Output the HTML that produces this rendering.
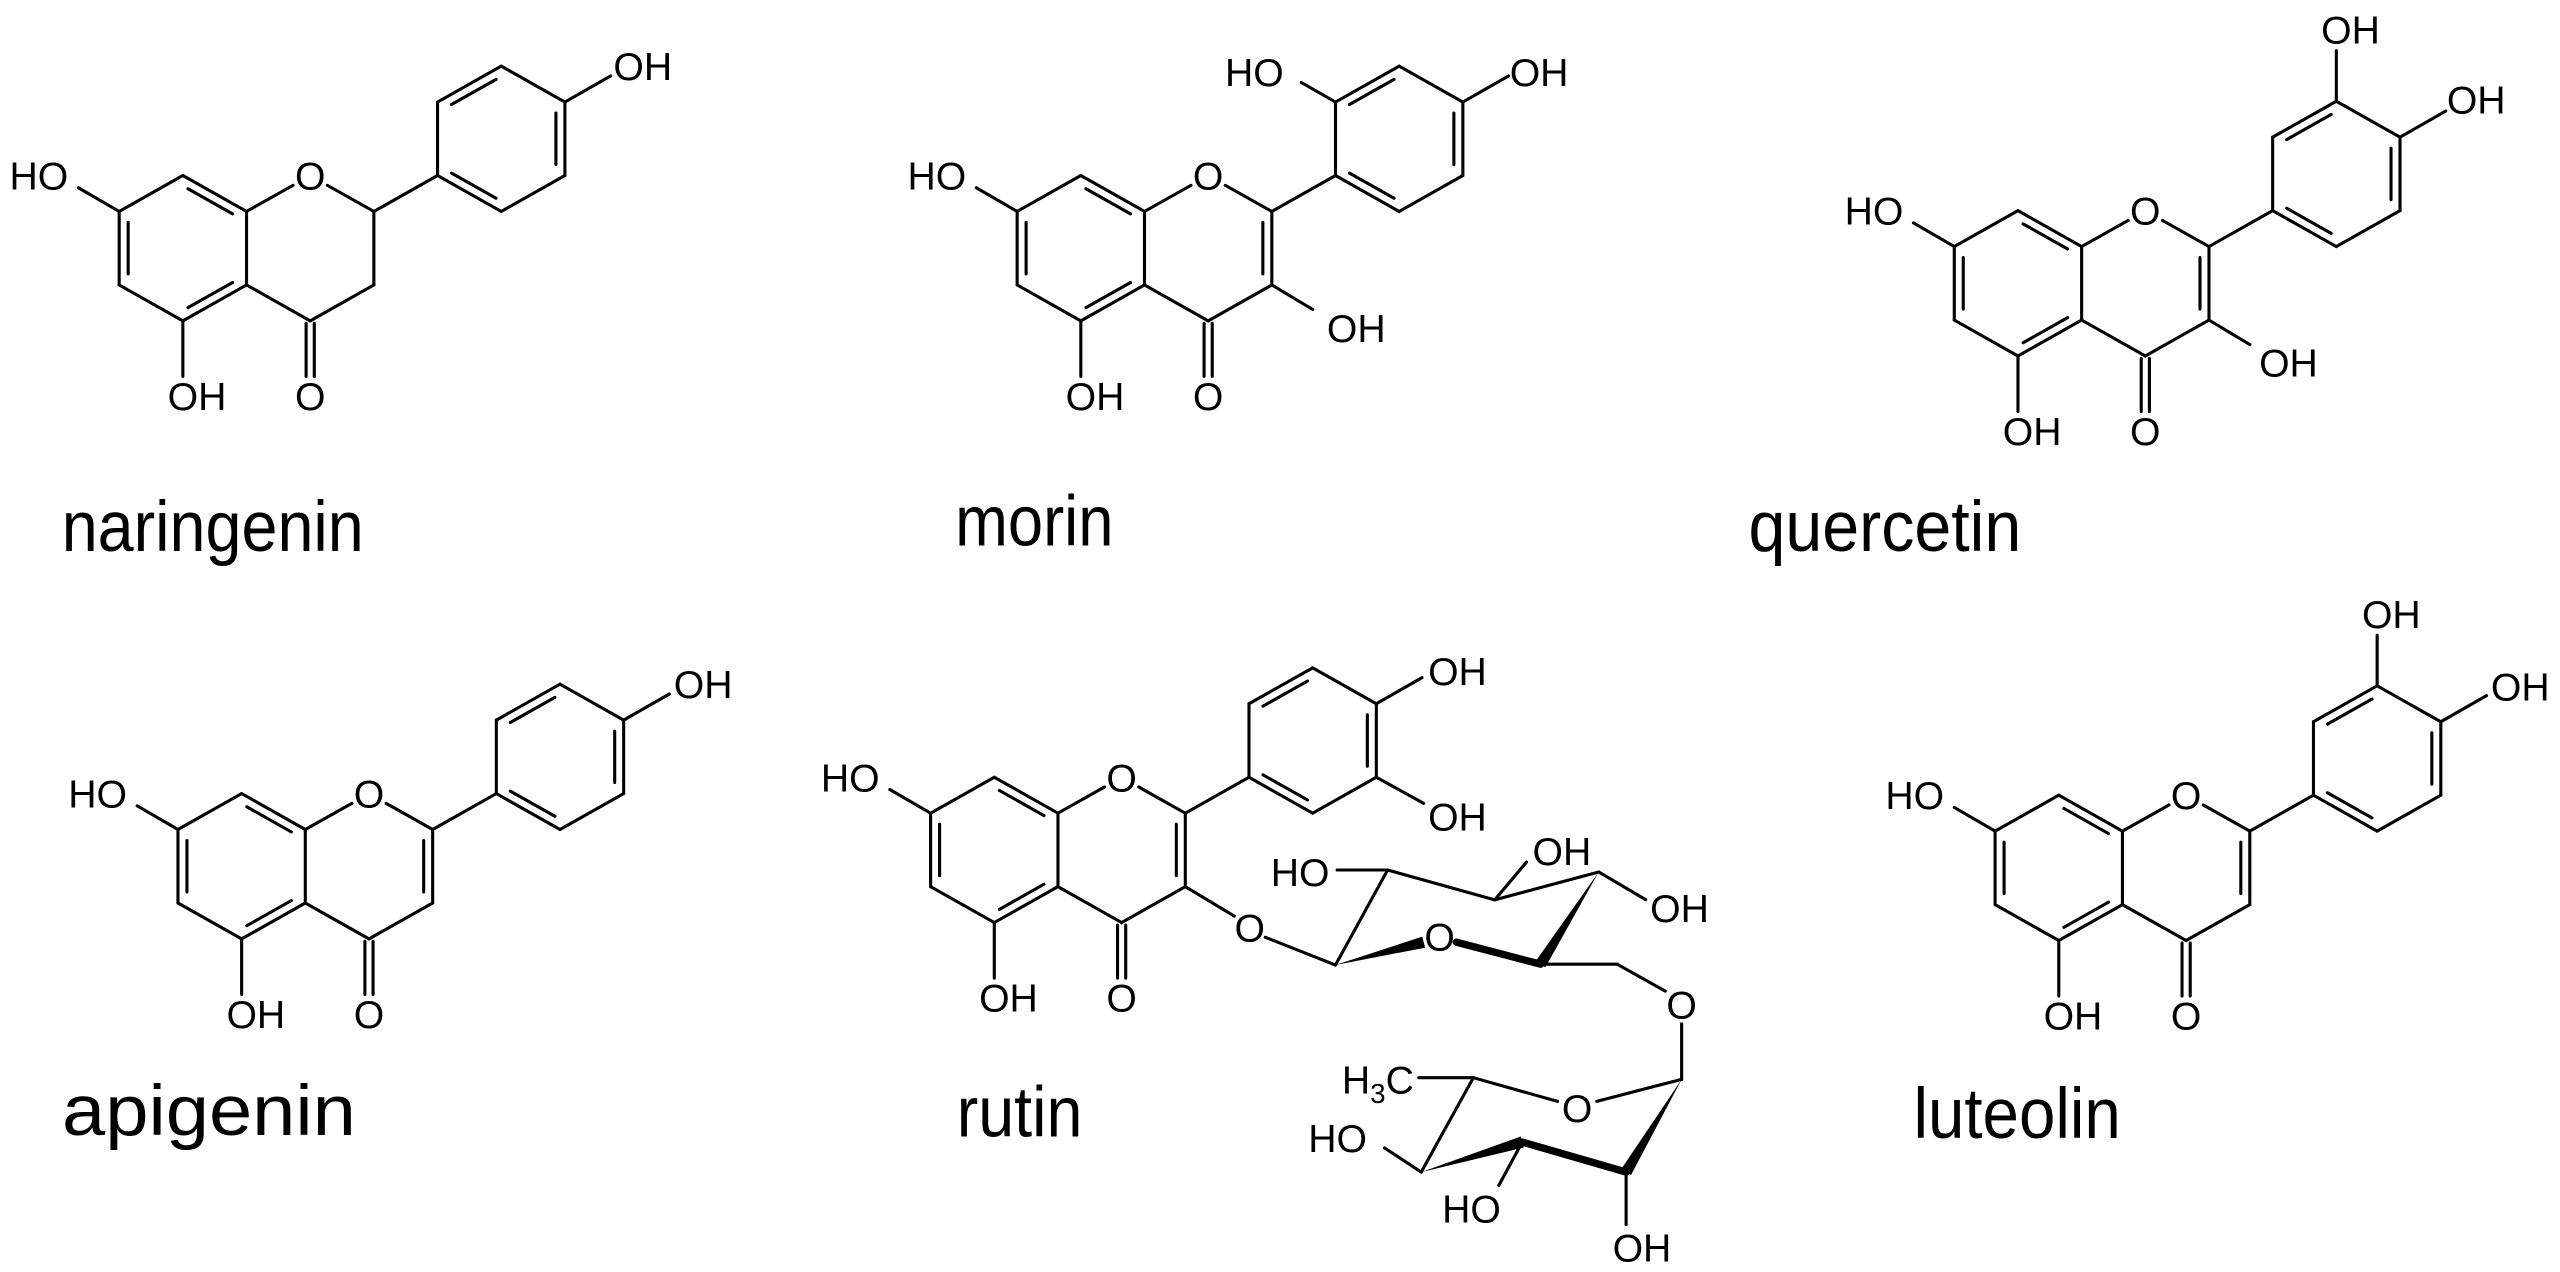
<!DOCTYPE html>
<html><head><meta charset="utf-8"><style>
html,body{margin:0;padding:0;background:#fff;}
svg{display:block}
text{font-family:"Liberation Sans",Arial,sans-serif;fill:#000}
.a{font-size:24px}
.n{font-size:44px}
</style></head><body>
<svg id="s" width="2560" height="1272" viewBox="0 0 1568 779" preserveAspectRatio="none" xmlns="http://www.w3.org/2000/svg">
<rect width="1568" height="779" fill="#fff"/>
<g id="b" stroke="#000" stroke-width="1.9" fill="none" stroke-linecap="round"></g>
<g id="w" fill="#000"></g>
<g class="a">
<!-- naringenin -->
<text x="41.8" y="116.1" text-anchor="end">HO</text>
<text x="190" y="116.1" text-anchor="middle">O</text>
<text x="102.7" y="251.1">OH</text>
<text x="190" y="251.1" text-anchor="middle">O</text>
<text x="375.7" y="49.1">OH</text>
<!-- morin -->
<text x="591.8" y="116.1" text-anchor="end">HO</text>
<text x="740" y="116.1" text-anchor="middle">O</text>
<text x="652.7" y="251.1">OH</text>
<text x="740" y="251.1" text-anchor="middle">O</text>
<text x="812.7" y="209.6">OH</text>
<text x="786.3" y="52.6" text-anchor="end">HO</text>
<text x="924.7" y="52.6">OH</text>
<!-- quercetin -->
<text x="1165.8" y="137.6" text-anchor="end">HO</text>
<text x="1314" y="137.6" text-anchor="middle">O</text>
<text x="1226.7" y="272.6">OH</text>
<text x="1314" y="272.6" text-anchor="middle">O</text>
<text x="1383.7" y="230.6">OH</text>
<text x="1421.7" y="26.6">OH</text>
<text x="1498.7" y="69.6">OH</text>
<!-- apigenin -->
<text x="77.8" y="494.6" text-anchor="end">HO</text>
<text x="226" y="494.6" text-anchor="middle">O</text>
<text x="138.7" y="629.6">OH</text>
<text x="226" y="629.6" text-anchor="middle">O</text>
<text x="412.7" y="427.6">OH</text>
<!-- luteolin -->
<text x="1190.8" y="495.6" text-anchor="end">HO</text>
<text x="1339" y="495.6" text-anchor="middle">O</text>
<text x="1251.7" y="630.6">OH</text>
<text x="1339" y="630.6" text-anchor="middle">O</text>
<text x="1446.7" y="384.6">OH</text>
<text x="1525.7" y="429.1">OH</text>
<!-- rutin -->
<text x="538.8" y="484.6" text-anchor="end">HO</text>
<text x="687" y="484.6" text-anchor="middle">O</text>
<text x="599.7" y="619.6">OH</text>
<text x="687" y="619.6" text-anchor="middle">O</text>
<text x="874.7" y="419.6">OH</text>
<text x="874.7" y="508.6">OH</text>
<text x="765.5" y="576.6" text-anchor="middle">O</text>
<text x="814.3" y="542.6" text-anchor="end">HO</text>
<text x="938.7" y="529.6">OH</text>
<text x="1010.7" y="564.6">OH</text>
<text x="881.8" y="582" text-anchor="middle">O</text>
<text x="1030" y="623.6" text-anchor="middle">O</text>
<text x="966" y="687" text-anchor="middle">O</text>
<text x="866" y="669.6" text-anchor="end">H<tspan font-size="17" dy="6">3</tspan><tspan dy="-6">C</tspan></text>
<text x="837.3" y="705.6" text-anchor="end">HO</text>
<text x="919.3" y="748.6" text-anchor="end">HO</text>
<text x="987.7" y="772.6">OH</text>
</g>
<g class="n">
<text x="37.8" y="337.5" textLength="185" lengthAdjust="spacingAndGlyphs">naringenin</text>
<text x="585" y="334" textLength="97" lengthAdjust="spacingAndGlyphs">morin</text>
<text x="1071" y="337.5" textLength="167" lengthAdjust="spacingAndGlyphs">quercetin</text>
<text x="38" y="695" textLength="180" lengthAdjust="spacingAndGlyphs">apigenin</text>
<text x="586" y="696" textLength="77" lengthAdjust="spacingAndGlyphs">rutin</text>
<text x="1172" y="697" textLength="127" lengthAdjust="spacingAndGlyphs">luteolin</text>
</g>
</svg>
<script>
(function(){
var NS="http://www.w3.org/2000/svg";
var B=document.getElementById('b'),W=document.getElementById('w');
function seg(a,b,w){var l=document.createElementNS(NS,'line');l.setAttribute('x1',a[0]);l.setAttribute('y1',a[1]);l.setAttribute('x2',b[0]);l.setAttribute('y2',b[1]);if(w)l.setAttribute('stroke-width',w);B.appendChild(l);}
function dbl(a,b,c){seg(a,b);var mx=(a[0]+b[0])/2,my=(a[1]+b[1])/2;var dx=b[0]-a[0],dy=b[1]-a[1],L=Math.sqrt(dx*dx+dy*dy);var nx=-dy/L,ny=dx/L;if((c[0]-mx)*nx+(c[1]-my)*ny<0){nx=-nx;ny=-ny;}var o=5.5,t=0.15;seg([a[0]+dx*t+nx*o,a[1]+dy*t+ny*o],[b[0]-dx*t+nx*o,b[1]-dy*t+ny*o]);}
function wedge(a,b,w){var dx=b[0]-a[0],dy=b[1]-a[1],L=Math.sqrt(dx*dx+dy*dy);var nx=-dy/L*w/2,ny=dx/L*w/2;var p=document.createElementNS(NS,'polygon');p.setAttribute('points',a[0]+','+a[1]+' '+(b[0]+nx)+','+(b[1]+ny)+' '+(b[0]-nx)+','+(b[1]-ny));W.appendChild(p);}
function flav(X,Y,o){
 function P(x,y){return [X+x,Y+y];}
 var c8=P(0,0),c7=P(-39,22),c6=P(-39,67),c5=P(0,89),c4a=P(39,67),c8a=P(39,22),c2=P(117,22),c3=P(117,67),c4=P(78,89);
 var Ac=P(0,44.5),Cc=P(78,44.5);
 seg(c8,c7);dbl(c7,c6,Ac);seg(c6,c5);dbl(c5,c4a,Ac);seg(c4a,c8a);dbl(c8a,c8,Ac);
 seg(c8a,P(67.5,6));seg(P(88.5,6),c2);
 if(o.flavone)dbl(c2,c3,Cc);else seg(c2,c3);
 seg(c3,c4);seg(c4,c4a);
 seg(P(75.5,90.5),P(75.5,123));seg(P(80.5,90.5),P(80.5,123));
 seg(c5,P(0,123));
 seg(c7,P(-64,7.5));
 var v=[P(156,0),P(156,-45),P(195,-67),P(234,-45),P(234,0),P(195,22)],Bc=P(195,-22.5);
 seg(c2,v[0]);seg(v[0],v[1]);dbl(v[1],v[2],Bc);seg(v[2],v[3]);dbl(v[3],v[4],Bc);seg(v[4],v[5]);dbl(v[5],v[0],Bc);
 if(o.oh3)seg(c3,P(142,82));
 if(o.o3)seg(c3,P(147,85));
 if(o.b4)seg(v[3],P(262,-61));
 if(o.b3)seg(v[2],P(195,-98));
 if(o.b2)seg(v[1],P(135,-57));
 if(o.b5)seg(v[4],P(263,16));
}
flav(112,107.5,{b4:1});
flav(662,107.5,{flavone:1,oh3:1,b2:1,b4:1});
flav(1236,129,{flavone:1,oh3:1,b3:1,b4:1});
flav(148,486,{flavone:1,b4:1});
flav(1261,487,{flavone:1,b3:1,b4:1});
flav(609,476,{flavone:1,o3:1,b4:1,b5:1});
var C1=[818,591],C2=[849.9,532.8],C3=[915.5,551.1],C4=[979.2,534],C5=[943.6,590.5];
seg([775,574],C1);seg(C1,C2);seg(C2,C3);seg(C3,C4);
wedge(C4,C5,7);seg(C5,[892,577],4.5);wedge(C1,[872,577],7);
seg(C5,[990.5,590.5]);seg([990.5,590.5],[1020,607]);
seg([1030,627],[1030,661]);
seg(C2,[819,532.8]);seg(C3,[935,528]);seg(C4,[1008,551]);
var R1=[1030,661],R5=[902.4,660],R4=[870.5,717.8],R3=[932.4,699.4],R2=[996,717.8];
seg(R1,[978,674.5]);seg([954,674.5],R5);seg(R5,[869,660]);seg(R5,R4);
seg(R4,[848,703]);wedge(R4,R3,7);seg(R3,R2,4.5);wedge(R1,R2,7);
seg(R3,[918,726]);seg(R2,[996,750]);
})();
</script>
</body></html>
